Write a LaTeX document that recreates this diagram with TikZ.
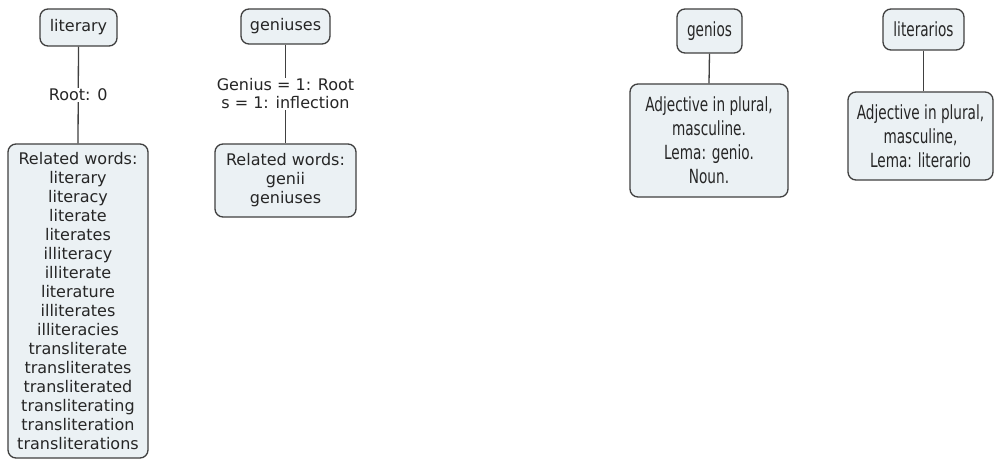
\documentclass[tikz,border=0pt]{standalone}
\usepackage{fontspec}
\newfontfamily\wordfont{DejaVu Sans}
\newfontfamily\notefont[FakeStretch=0.7]{DejaVu Sans}
\definecolor{boxfill}{HTML}{EBF1F4}
\definecolor{boxline}{HTML}{404040}
\definecolor{inkgray}{HTML}{262626}
\begin{document}
\begin{tikzpicture}[x=1pt,y=-1pt,
  concept/.style={draw=boxline, line width=1.3pt, fill=boxfill, rounded corners=8pt,
    align=center, text=inkgray, inner sep=2pt},
  enfont/.style={font=\wordfont\fontsize{16}{19}\selectfont},
  esfont/.style={font=\notefont\fontsize{19.5}{24}\selectfont},
  link/.style={draw=boxline, line width=1.3pt},
  lbl/.style={fill=white, inner sep=1pt, align=center, text=inkgray,
    font=\wordfont\fontsize{16}{18}\selectfont}]
\useasboundingbox[fill=white] (0,0) rectangle (994,460);

% English word: literary
\node[concept, enfont, minimum width=77pt, minimum height=37pt] (literary) at (78.5,27.5) {literary};
\node[concept, enfont, minimum width=140pt, minimum height=314pt] (relA) at (78,301)
  {Related words:\\literary\\literacy\\literate\\literates\\illiteracy\\illiterate\\literature\\illiterates\\illiteracies\\transliterate\\transliterates\\transliterated\\transliterating\\transliteration\\transliterations};
\draw[link] (literary.south) -- (relA.north) node[lbl, pos=0.5] {Root: 0};

% English word: geniuses
\node[concept, enfont, minimum width=89pt, minimum height=35pt] (geniuses) at (285.5,26.5) {geniuses};
\node[concept, enfont, minimum width=141pt, minimum height=73pt] (relB) at (285.5,180.5)
  {Related words:\\genii\\geniuses};
\draw[link] (geniuses.south) -- (relB.north) node[lbl, pos=0.5] {Genius = 1: Root\\s = 1: inflection};

% Spanish word: genios
\node[concept, esfont, minimum width=65pt, minimum height=44pt] (genios) at (709.5,31) {genios};
\node[concept, esfont, minimum width=158pt, minimum height=113pt] (geniosdesc) at (709,140.5)
  {Adjective in plural,\\masculine.\\Lema: genio.\\Noun.};
\draw[link] (genios.south) -- (geniosdesc.north);

% Spanish word: literarios
\node[concept, esfont, minimum width=81pt, minimum height=41pt] (literarios) at (923.5,29.5) {literarios};
\node[concept, esfont, minimum width=145pt, minimum height=88pt] (literariosdesc) at (920.5,136)
  {Adjective in plural,\\masculine,\\Lema: literario};
\draw[link] (literarios.south) -- (literarios.south |- literariosdesc.north);
\end{tikzpicture}
\end{document}
